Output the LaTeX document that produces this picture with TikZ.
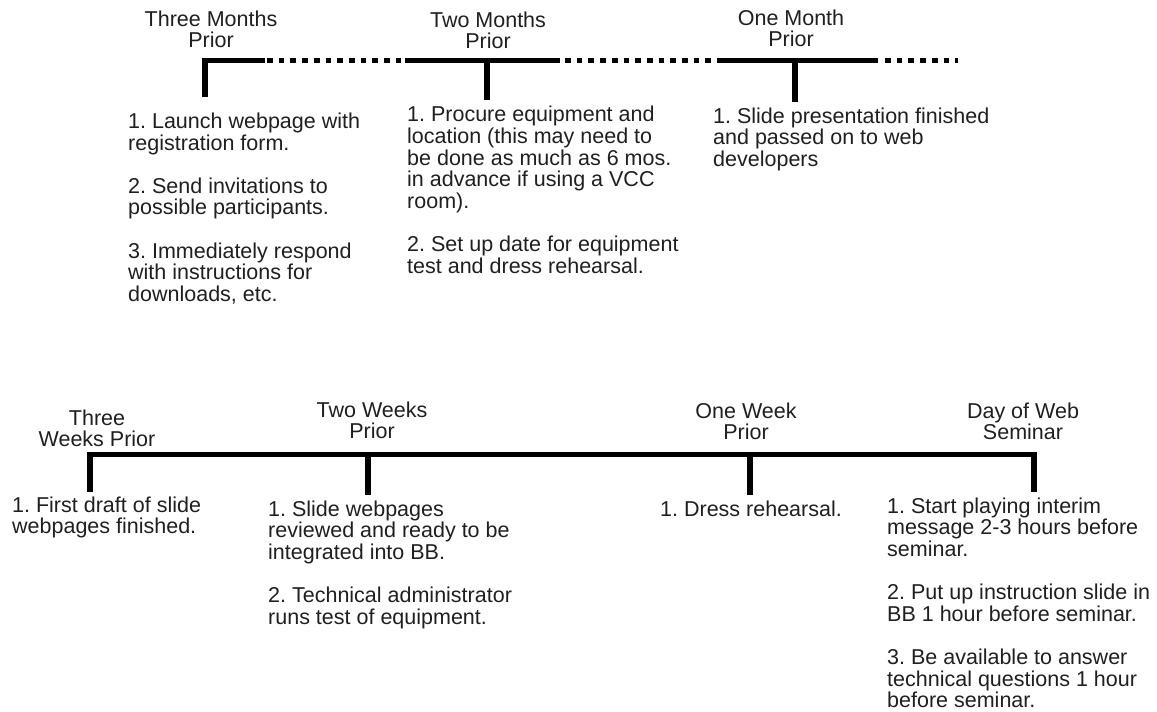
\documentclass[tikz,border=0pt]{standalone}
\usepackage{fontspec}
\setmainfont{Liberation Sans}
\frenchspacing
\newcommand\txtfont{\fontsize{21.5}{21.6}\selectfont\frenchspacing}
\newcommand\fl{\rule{0pt}{17pt}}
\begin{document}
\begin{tikzpicture}[x=1pt,y=-1pt,
  txt/.style={anchor=north west,inner sep=0pt,align=left,font=\txtfont,text=black!88},
  lbl/.style={anchor=north,inner sep=0pt,align=center,font=\txtfont,text=black!88},
  bar/.style={line width=5pt,black},
  dots/.style={line width=5pt,black,dash pattern=on 5.7pt off 6pt},
  tick/.style={line width=6pt,black}]
\useasboundingbox (0,0) rectangle (1157,712);

% ---------- top timeline ----------
\draw[bar] (202,60.5) -- (265,60.5);
\draw[dots] (267,60.5) -- (401,60.5);
\draw[bar] (405,60.5) -- (560,60.5);
\draw[dots] (565,60.5) -- (713,60.5);
\draw[bar] (717,60.5) -- (878,60.5);
\draw[dots] (885,60.5) -- (958,60.5);

\coordinate (t1) at (205,58);   \coordinate (t1b) at (205,97);
\coordinate (t2) at (486.5,58); \coordinate (t2b) at (486.5,100);
\coordinate (t3) at (795,58);   \coordinate (t3b) at (795,102);
\draw[tick] (t1) -- (t1b);
\draw[tick] (t2) -- (t2b);
\draw[tick] (t3) -- (t3b);

\node[lbl] (l1) at (211,9) {\fl Three Months\\Prior};
\node[lbl] (l2) at (488,10) {\fl Two Months\\Prior};
\node[lbl] (l3) at (791,8) {\fl One Month\\Prior};

\node[txt] (a1) at (128,111.3) {\fl 1. Launch webpage with\\registration form.\\[21.6pt]2. Send invitations to\\possible participants.\\[21.6pt]3. Immediately respond\\with instructions for\\downloads, etc.};
\node[txt] (a2) at (407,104.7) {\fl 1. Procure equipment and\\location (this may need to\\be done as much as 6 mos.\\in advance if using a VCC\\room).\\[21.6pt]2. Set up date for equipment\\test and dress rehearsal.};
\node[txt] (a3) at (713,106) {\fl 1. Slide presentation finished\\and passed on to web\\developers};

% ---------- bottom timeline ----------
\draw[bar] (87,454.5) -- (1037,454.5);
\coordinate (b1) at (90,452);   \coordinate (b1b) at (90,492);
\coordinate (b2) at (368,452);  \coordinate (b2b) at (368,495);
\coordinate (b3) at (750,452);  \coordinate (b3b) at (750,495);
\coordinate (b4) at (1034,452); \coordinate (b4b) at (1034,492);
\draw[tick] (b1) -- (b1b);
\draw[tick] (b2) -- (b2b);
\draw[tick] (b3) -- (b3b);
\draw[tick] (b4) -- (b4b);

\node[lbl] (w1) at (97,408) {\fl Three\\Weeks Prior};
\node[lbl] (w2) at (372,400) {\fl Two Weeks\\Prior};
\node[lbl] (w3) at (746,401) {\fl One Week\\Prior};
\node[lbl] (w4) at (1023,401) {\fl Day of Web\\Seminar};

\node[txt] (c1) at (12,495) {\fl 1. First draft of slide\\webpages finished.};
\node[txt] (c2) at (268,499) {\fl 1. Slide webpages\\reviewed and ready to be\\integrated into BB.\\[21.6pt]2. Technical administrator\\runs test of equipment.};
\node[txt] (c3) at (660,499) {\fl 1. Dress rehearsal.};
\node[txt] (c4) at (887,496) {\fl 1. Start playing interim\\message 2-3 hours before\\seminar.\\[21.6pt]2. Put up instruction slide in\\BB 1 hour before seminar.\\[21.6pt]3. Be available to answer\\technical questions 1 hour\\before seminar.};
\end{tikzpicture}
\end{document}
